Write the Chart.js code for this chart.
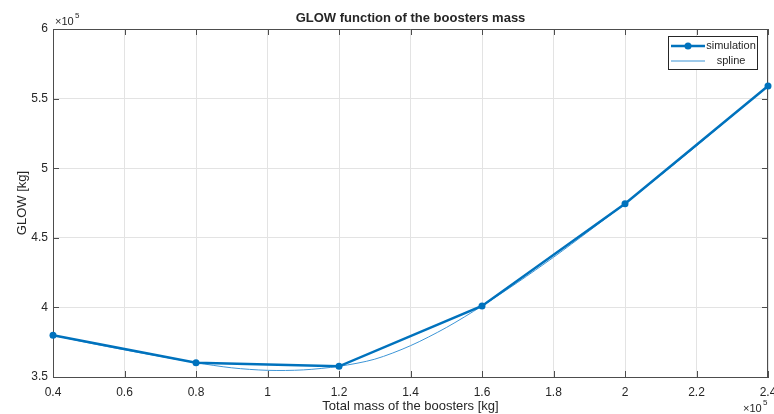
<!DOCTYPE html>
<html>
<head>
<meta charset="utf-8">
<script src="https://cdn.jsdelivr.net/npm/chart.js@4/dist/chart.umd.min.js"></script>
<style>
  html, body { margin: 0; padding: 0; background: #ffffff; }
  canvas { display: block; }
</style>
</head>
<body>
<canvas id="c" width="774" height="414"></canvas>
<script>
// ---- data (masses in kg) ----
const boosterMass = [40000, 80000, 120000, 160000, 200000, 240000];
const glowSimulation = [380000, 360300, 357700, 401000, 474500, 559000];

const splineMass = [40000, 50000, 60000, 70000, 80000, 90000, 100000, 110000, 120000, 130000, 140000,
                    150000, 160000, 170000, 180000, 190000, 200000, 210000, 220000, 230000, 240000];
const glowSpline = [380000, 374500, 369500, 364800, 360300, 356600, 354800, 355100, 357700, 362800, 372500,
                    385500, 401000, 418000, 436000, 455000, 474500, 495000, 516000, 537500, 559000];

const xTickValues = [40000, 60000, 80000, 100000, 120000, 140000, 160000, 180000, 200000, 220000, 240000];
const yTickValues = [350000, 400000, 450000, 500000, 550000, 600000];

const titleText = 'GLOW function of the boosters mass';
const xTitleText = 'Total mass of the boosters [kg]';
const yTitleText = 'GLOW [kg]';
const seriesNames = ['simulation', 'spline'];

// ---- styling ----
const BLUE = '#0072BD';
const AXIS = '#4d4d4d';
const TEXT = '#262626';
const FONT = '"Liberation Sans", Arial, Helvetica, sans-serif';

function fmt(v) {
  return String(Number((v / 1e5).toFixed(2)));
}

const decor = {
  id: 'decor',
  beforeDatasetsDraw(chart) {
    const ctx = chart.ctx;
    const a = chart.chartArea;
    const xs = chart.scales.x, ys = chart.scales.y;
    ctx.save();
    ctx.strokeStyle = AXIS;
    ctx.lineWidth = 1;
    ctx.beginPath();
    ctx.moveTo(a.left, a.top + 0.5); ctx.lineTo(a.right, a.top + 0.5);
    ctx.moveTo(a.right - 0.5, a.top); ctx.lineTo(a.right - 0.5, a.bottom);
    ctx.stroke();
    const L = 6;
    ctx.beginPath();
    xTickValues.forEach(v => {
      const px = Math.round(xs.getPixelForValue(v)) + 0.5;
      ctx.moveTo(px, a.bottom); ctx.lineTo(px, a.bottom - L);
      ctx.moveTo(px, a.top); ctx.lineTo(px, a.top + L);
    });
    yTickValues.forEach(v => {
      const py = Math.round(ys.getPixelForValue(v)) + 0.5;
      ctx.moveTo(a.left, py); ctx.lineTo(a.left + L, py);
      ctx.moveTo(a.right, py); ctx.lineTo(a.right - L, py);
    });
    ctx.stroke();
    ctx.restore();
  },
  afterDraw(chart) {
    const ctx = chart.ctx;
    const a = chart.chartArea;
    const cx = (a.left + a.right) / 2;
    const cy = (a.top + a.bottom) / 2;
    ctx.save();
    ctx.fillStyle = TEXT;
    ctx.textBaseline = 'middle';
    ctx.textAlign = 'center';
    ctx.font = 'bold 13px ' + FONT;
    ctx.fillText(titleText, cx, 18);
    ctx.font = '13px ' + FONT;
    ctx.fillText(xTitleText, cx, 406);
    ctx.save();
    ctx.translate(22, cy);
    ctx.rotate(-Math.PI / 2);
    ctx.fillText(yTitleText, 0, 0);
    ctx.restore();
    ctx.textAlign = 'left';
    ctx.font = '11px ' + FONT;
    ctx.fillText('\u00d710', 55, 22);
    ctx.font = '8px ' + FONT;
    ctx.fillText('5', 75, 16);
    ctx.font = '11px ' + FONT;
    ctx.fillText('\u00d710', 743, 409);
    ctx.font = '8px ' + FONT;
    ctx.fillText('5', 763, 403);
    // legend
    const lx = 668.5, ly = 36.5, lw = 89, lh = 33;
    ctx.fillStyle = '#ffffff';
    ctx.fillRect(lx, ly, lw, lh);
    ctx.strokeStyle = '#262626';
    ctx.lineWidth = 1;
    ctx.strokeRect(lx, ly, lw, lh);
    ctx.strokeStyle = BLUE;
    ctx.lineWidth = 2.5;
    ctx.beginPath();
    ctx.moveTo(671, 46); ctx.lineTo(705, 46);
    ctx.stroke();
    ctx.fillStyle = BLUE;
    ctx.beginPath();
    ctx.arc(688, 46, 3.5, 0, Math.PI * 2);
    ctx.fill();
    ctx.lineWidth = 1;
    ctx.strokeStyle = '#3d95d6';
    ctx.beginPath();
    ctx.moveTo(671, 61); ctx.lineTo(705, 61);
    ctx.stroke();
    ctx.fillStyle = TEXT;
    ctx.font = '11px ' + FONT;
    ctx.textAlign = 'center';
    ctx.fillText(seriesNames[0], 731, 46);
    ctx.fillText(seriesNames[1], 731, 61);
    ctx.restore();
  }
};

new Chart(document.getElementById('c'), {
  type: 'line',
  data: {
    datasets: [
      {
        label: seriesNames[1],
        data: splineMass.map((x, i) => ({ x: x, y: glowSpline[i] })),
        borderColor: '#3d95d6',
        borderWidth: 1,
        pointRadius: 0,
        tension: 0.3,
        fill: false,
        order: 2
      },
      {
        label: seriesNames[0],
        data: boosterMass.map((x, i) => ({ x: x, y: glowSimulation[i] })),
        borderColor: BLUE,
        backgroundColor: BLUE,
        borderWidth: 2.5,
        pointRadius: 3.5,
        pointBackgroundColor: BLUE,
        pointBorderColor: BLUE,
        pointBorderWidth: 0,
        tension: 0,
        fill: false,
        order: 1
      }
    ]
  },
  options: {
    responsive: false,
    animation: false,
    devicePixelRatio: 1,
    clip: false,
    layout: { autoPadding: false, padding: { top: 29, right: 6, left: 0, bottom: 0 } },
    plugins: { legend: { display: false }, title: { display: false }, tooltip: { enabled: false } },
    scales: {
      x: {
        type: 'linear',
        min: 40000,
        max: 240000,
        afterFit(s) { s.height = 37; s.paddingLeft = 0; s.paddingRight = 0; },
        afterBuildTicks(s) { s.ticks = xTickValues.map(v => ({ value: v })); },
        ticks: {
          callback: v => fmt(v),
          color: TEXT,
          font: { family: FONT, size: 12 },
          padding: 8,
          maxRotation: 0,
          autoSkip: false
        },
        grid: { color: '#e3e3e3', drawTicks: false, lineWidth: 1 },
        border: { color: AXIS, width: 1 }
      },
      y: {
        type: 'linear',
        min: 350000,
        max: 600000,
        afterFit(s) { s.width = 53; s.paddingTop = 0; s.paddingBottom = 0; },
        afterBuildTicks(s) { s.ticks = yTickValues.map(v => ({ value: v })); },
        ticks: {
          callback: v => fmt(v),
          color: TEXT,
          font: { family: FONT, size: 12 },
          padding: 5,
          autoSkip: false
        },
        grid: { color: '#e3e3e3', drawTicks: false, lineWidth: 1 },
        border: { color: AXIS, width: 1 }
      }
    }
  },
  plugins: [decor]
});
</script>
</body>
</html>
